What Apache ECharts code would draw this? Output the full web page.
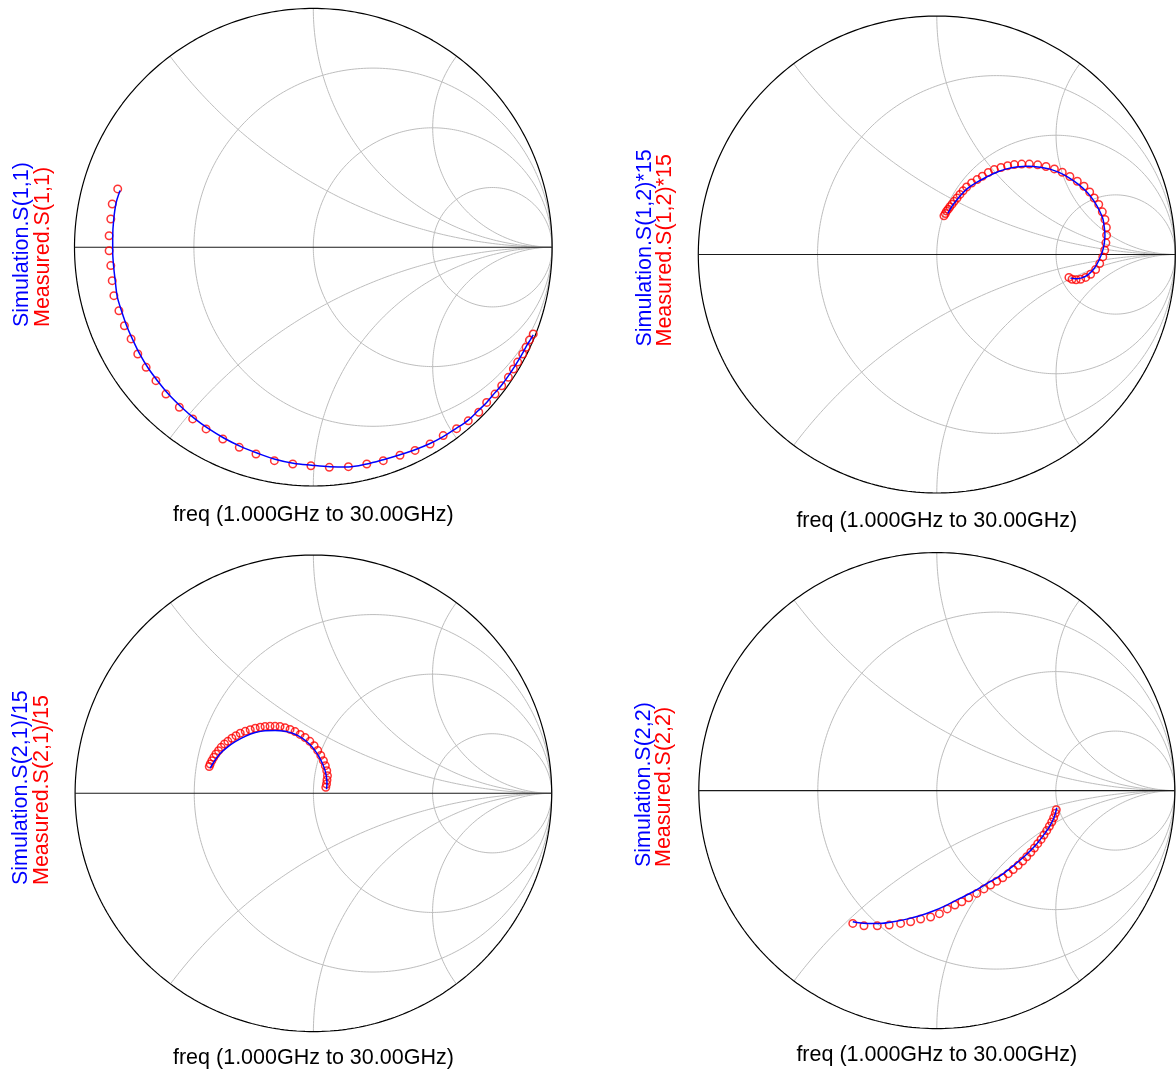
<!DOCTYPE html>
<html>
<head>
<meta charset="utf-8">
<script src="https://cdn.jsdelivr.net/npm/echarts@6/dist/echarts.min.js"></script>
<style>
  html, body { margin: 0; padding: 0; background: #ffffff; }
  #chart { width: 1176px; height: 1075px; }
</style>
</head>
<body>
<div id="chart"></div>
<script>
// Smith chart grid: normalized resistance circles and reactance arcs
const resistanceCircles = [1 / 3, 1, 3];
const reactanceArcs = [0.5, 1, 2];

const sweepLabel = 'freq (1.000GHz to 30.00GHz)';

// Reflection coefficients [real, imag], swept 1 GHz .. 30 GHz
const s11Measured = [
  [-0.819, 0.244], [-0.842, 0.181], [-0.848, 0.118], [-0.855, 0.048], [-0.855, -0.015],
  [-0.848, -0.077], [-0.842, -0.140], [-0.835, -0.203], [-0.814, -0.266], [-0.791, -0.329],
  [-0.763, -0.384], [-0.735, -0.447], [-0.700, -0.503], [-0.659, -0.559], [-0.617, -0.615],
  [-0.561, -0.670], [-0.505, -0.719], [-0.449, -0.761], [-0.379, -0.803], [-0.310, -0.838],
  [-0.240, -0.866], [-0.163, -0.894], [-0.086, -0.908], [-0.010, -0.915], [0.067, -0.922],
  [0.147, -0.919], [0.224, -0.908], [0.293, -0.894], [0.363, -0.871], [0.426, -0.851],
  [0.489, -0.824], [0.544, -0.789], [0.600, -0.760], [0.649, -0.727], [0.693, -0.691],
  [0.726, -0.650], [0.761, -0.615], [0.789, -0.580], [0.817, -0.545], [0.838, -0.510],
  [0.856, -0.481], [0.877, -0.447], [0.891, -0.419], [0.905, -0.389], [0.921, -0.363]
];
const s11Simulated = [
  [-0.809, 0.237], [-0.826, 0.184], [-0.836, 0.114], [-0.840, 0.044], [-0.840, -0.019],
  [-0.836, -0.082], [-0.829, -0.144], [-0.821, -0.207], [-0.802, -0.270], [-0.780, -0.333],
  [-0.754, -0.392], [-0.726, -0.449], [-0.691, -0.507], [-0.652, -0.560], [-0.607, -0.615],
  [-0.554, -0.668], [-0.498, -0.717], [-0.442, -0.758], [-0.373, -0.800], [-0.303, -0.835],
  [-0.233, -0.863], [-0.160, -0.888], [-0.084, -0.905], [-0.007, -0.913], [0.070, -0.919],
  [0.147, -0.920], [0.224, -0.908], [0.293, -0.890], [0.363, -0.869], [0.426, -0.848],
  [0.489, -0.822], [0.544, -0.793], [0.600, -0.758], [0.649, -0.724], [0.691, -0.684],
  [0.726, -0.650], [0.761, -0.609], [0.789, -0.577], [0.817, -0.539], [0.840, -0.504],
  [0.860, -0.472], [0.879, -0.439], [0.896, -0.408], [0.910, -0.386], [0.921, -0.367]
];

// S(1,2) scaled by 15
const s12Measured = [
  [0.030, 0.162], [0.036, 0.172], [0.041, 0.182], [0.048, 0.190], [0.055, 0.200],
  [0.064, 0.211], [0.073, 0.223], [0.085, 0.237], [0.097, 0.252], [0.110, 0.267],
  [0.125, 0.283], [0.146, 0.300], [0.169, 0.314], [0.191, 0.328], [0.216, 0.344],
  [0.241, 0.356], [0.269, 0.365], [0.297, 0.372], [0.325, 0.377], [0.356, 0.379],
  [0.388, 0.379], [0.423, 0.376], [0.458, 0.369], [0.493, 0.359], [0.526, 0.345],
  [0.558, 0.327], [0.589, 0.307], [0.617, 0.286], [0.641, 0.262], [0.660, 0.237],
  [0.679, 0.210], [0.694, 0.179], [0.705, 0.147], [0.711, 0.113], [0.712, 0.081],
  [0.709, 0.049], [0.704, 0.018], [0.696, -0.010], [0.683, -0.038], [0.666, -0.063],
  [0.645, -0.083], [0.624, -0.096], [0.603, -0.104], [0.584, -0.106], [0.567, -0.104],
  [0.554, -0.096]
];
const s12Simulated = [
  [0.046, 0.172], [0.062, 0.200], [0.083, 0.228], [0.104, 0.253], [0.132, 0.279],
  [0.167, 0.302], [0.209, 0.325], [0.251, 0.345], [0.293, 0.359], [0.335, 0.367],
  [0.384, 0.370], [0.433, 0.366], [0.475, 0.358], [0.517, 0.342], [0.558, 0.319],
  [0.598, 0.291], [0.633, 0.258], [0.660, 0.223], [0.681, 0.186], [0.696, 0.151],
  [0.702, 0.116], [0.705, 0.081], [0.702, 0.046], [0.694, 0.011], [0.680, -0.024],
  [0.660, -0.059], [0.635, -0.084], [0.608, -0.098], [0.582, -0.102], [0.561, -0.098]
];

// S(2,1) scaled by 1/15
const s21Measured = [
  [-0.437, 0.112], [-0.433, 0.123], [-0.426, 0.137], [-0.418, 0.151], [-0.409, 0.165],
  [-0.398, 0.179], [-0.387, 0.193], [-0.373, 0.207], [-0.359, 0.218], [-0.342, 0.231],
  [-0.325, 0.242], [-0.307, 0.252], [-0.286, 0.260], [-0.265, 0.267], [-0.244, 0.273],
  [-0.223, 0.277], [-0.203, 0.280], [-0.182, 0.281], [-0.161, 0.281], [-0.140, 0.280],
  [-0.119, 0.275], [-0.098, 0.268], [-0.077, 0.259], [-0.056, 0.247], [-0.035, 0.234],
  [-0.015, 0.218], [0.003, 0.200], [0.018, 0.180], [0.031, 0.159], [0.042, 0.137],
  [0.050, 0.116], [0.056, 0.095], [0.059, 0.074], [0.057, 0.056], [0.055, 0.039],
  [0.052, 0.025]
];
const s21Simulated = [
  [-0.433, 0.106], [-0.423, 0.123], [-0.409, 0.144], [-0.390, 0.168], [-0.362, 0.193],
  [-0.328, 0.217], [-0.286, 0.239], [-0.244, 0.255], [-0.203, 0.263], [-0.161, 0.264],
  [-0.119, 0.260], [-0.080, 0.249], [-0.046, 0.231], [-0.017, 0.207], [0.007, 0.179],
  [0.025, 0.151], [0.039, 0.123], [0.049, 0.095], [0.055, 0.067], [0.057, 0.039],
  [0.055, 0.017]
];

const s22Measured = [
  [-0.353, -0.558], [-0.306, -0.568], [-0.250, -0.568], [-0.200, -0.565], [-0.152, -0.558],
  [-0.110, -0.551], [-0.068, -0.540], [-0.026, -0.531], [0.011, -0.517], [0.044, -0.497],
  [0.076, -0.481], [0.105, -0.467], [0.134, -0.450], [0.168, -0.432], [0.198, -0.413],
  [0.226, -0.397], [0.252, -0.381], [0.277, -0.366], [0.300, -0.349], [0.321, -0.332],
  [0.342, -0.314], [0.361, -0.296], [0.378, -0.278], [0.395, -0.259], [0.410, -0.241],
  [0.424, -0.223], [0.438, -0.205], [0.450, -0.187], [0.462, -0.168], [0.473, -0.150],
  [0.483, -0.132], [0.491, -0.114], [0.498, -0.095], [0.502, -0.080]
];
const s22Simulated = [
  [-0.353, -0.551], [-0.295, -0.558], [-0.239, -0.558], [-0.183, -0.551], [-0.126, -0.540],
  [-0.071, -0.526], [-0.015, -0.506], [0.042, -0.481], [0.097, -0.453], [0.153, -0.425],
  [0.210, -0.391], [0.266, -0.358], [0.321, -0.316], [0.371, -0.274], [0.413, -0.232],
  [0.447, -0.189], [0.476, -0.147], [0.494, -0.110], [0.504, -0.072]
];

// Panel layout (pixel centre and radius of each chart) and trace names
const panels = [
  { cx: 313.3, cy: 247.2, R: 238.8, simName: 'Simulation.S(1,1)', measName: 'Measured.S(1,1)',
    sim: s11Simulated, meas: s11Measured, labelX: 22.5, labelBottom: 327, titleY: 515 },
  { cx: 936.8, cy: 254.5, R: 238.5, simName: 'Simulation.S(1,2)*15', measName: 'Measured.S(1,2)*15',
    sim: s12Simulated, meas: s12Measured, labelX: 645, labelBottom: 346.5, titleY: 521 },
  { cx: 313.4, cy: 793.3, R: 238.3, simName: 'Simulation.S(2,1)/15', measName: 'Measured.S(2,1)/15',
    sim: s21Simulated, meas: s21Measured, labelX: 21.5, labelBottom: 885, titleY: 1058 },
  { cx: 936.8, cy: 790.6, R: 238.0, simName: 'Simulation.S(2,2)', measName: 'Measured.S(2,2)',
    sim: s22Simulated, meas: s22Measured, labelX: 644, labelBottom: 867, titleY: 1055 }
];

// Constant-resistance circle: centre r/(r+1), radius 1/(r+1)
function resistanceCurve(r) {
  const c = r / (r + 1), rad = 1 / (r + 1), pts = [];
  for (let i = 0; i <= 360; i++) {
    const t = i * Math.PI / 180;
    pts.push([c + rad * Math.cos(t), rad * Math.sin(t)]);
  }
  return pts;
}

// Constant-reactance arc: map z = r + jx to gamma for r from 0 to infinity
function reactanceCurve(x) {
  const pts = [];
  const n = 400;
  for (let i = 0; i < n; i++) {
    const r = Math.tan((i / n) * Math.PI / 2);
    const d = (r + 1) * (r + 1) + x * x;
    pts.push([(r * r - 1 + x * x) / d, (2 * x) / d]);
  }
  pts.push([1, 0]);
  return pts;
}

const grids = [], xAxes = [], yAxes = [], series = [], graphics = [];
const font = '21.5px "Liberation Sans", Arial, sans-serif';

panels.forEach((p, i) => {
  grids.push({ left: p.cx - p.R, top: p.cy - p.R, width: 2 * p.R, height: 2 * p.R });
  xAxes.push({ gridIndex: i, type: 'value', min: -1, max: 1, show: false });
  yAxes.push({ gridIndex: i, type: 'value', min: -1, max: 1, show: false });

  const lineBase = {
    type: 'line', xAxisIndex: i, yAxisIndex: i, symbol: 'none', showSymbol: false,
    silent: true, clip: false, animation: false
  };
  resistanceCircles.forEach(r => {
    series.push(Object.assign({}, lineBase, {
      z: 1, data: resistanceCurve(r), lineStyle: { color: '#bdbdbd', width: 1 }
    }));
  });
  reactanceArcs.forEach(x => {
    [x, -x].forEach(v => {
      series.push(Object.assign({}, lineBase, {
        z: 1, data: reactanceCurve(v), lineStyle: { color: '#bdbdbd', width: 1 }
      }));
    });
  });
  // outer boundary |gamma| = 1 and the real axis
  series.push(Object.assign({}, lineBase, {
    z: 2, data: resistanceCurve(0), lineStyle: { color: '#000000', width: 1.2 }
  }));
  series.push(Object.assign({}, lineBase, {
    z: 2, data: [[-1, 0], [1, 0]], lineStyle: { color: '#1a1a1a', width: 1.1 }
  }));

  series.push({
    name: p.measName, type: 'scatter', xAxisIndex: i, yAxisIndex: i, z: 3,
    symbol: 'circle', symbolSize: 7.5, animation: false, silent: true,
    data: p.meas,
    itemStyle: { color: 'rgba(0,0,0,0)', borderColor: '#ff0000', borderWidth: 1.5 }
  });
  series.push(Object.assign({}, lineBase, {
    name: p.simName, z: 4, data: p.sim, smooth: 0.35,
    lineStyle: { color: '#0000ff', width: 1.5 }
  }));

  graphics.push({
    type: 'text', x: p.labelX, y: p.labelBottom, rotation: Math.PI / 2,
    style: { text: p.simName, fill: '#0000ff', font: font, textAlign: 'left', textVerticalAlign: 'middle' }
  });
  graphics.push({
    type: 'text', x: p.labelX + 20.5, y: p.labelBottom, rotation: Math.PI / 2,
    style: { text: p.measName, fill: '#ff0000', font: font, textAlign: 'left', textVerticalAlign: 'middle' }
  });
  graphics.push({
    type: 'text', x: p.cx, y: p.titleY,
    style: { text: sweepLabel, fill: '#000000', font: font, textAlign: 'center', textVerticalAlign: 'middle' }
  });
});

const chart = echarts.init(document.getElementById('chart'), null, { renderer: 'canvas' });
chart.setOption({
  backgroundColor: '#ffffff',
  animation: false,
  grid: grids,
  xAxis: xAxes,
  yAxis: yAxes,
  series: series,
  graphic: graphics
});
</script>
</body>
</html>
